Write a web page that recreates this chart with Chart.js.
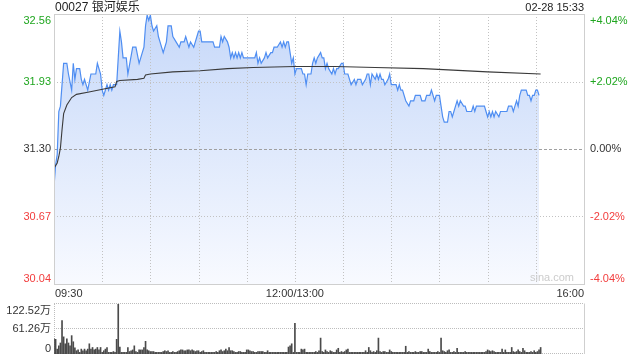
<!DOCTYPE html>
<html>
<head>
<meta charset="utf-8">
<script src="https://cdn.jsdelivr.net/npm/chart.js@4.4.1/dist/chart.umd.min.js"></script>
<style>
  html, body { margin: 0; padding: 0; background: #fff; }
  #wrap { position: relative; width: 640px; height: 360px; overflow: hidden; }
  #priceChart { position: absolute; left: 0; top: 0; width: 640px; height: 300px; }
  #volChart { position: absolute; left: 0; top: 300px; width: 640px; height: 60px; }
</style>
</head>
<body>
<div id="wrap">
  <canvas id="priceChart" width="640" height="300"></canvas>
  <canvas id="volChart" width="640" height="60"></canvas>
</div>
<script>
const title = "00027 银河娱乐";
const stamp = "02-28 15:33";
const prevClose = 31.30;

// trading minute index (0 = 09:30, 150 = 12:00/13:00, 330 = 16:00)
const priceMinutes = [
  0, 1, 2, 3, 4, 6, 8, 9, 11, 12,
  13, 14, 16, 17, 18, 19, 21, 23, 26, 27,
  29, 30, 31, 33, 34, 35, 36, 37, 39, 40,
  41, 42, 43, 45, 46, 49, 51, 53, 54, 56,
  57, 58, 59, 60, 61, 62, 64, 65, 66, 68,
  70, 71, 73, 74, 76, 78, 79, 81, 82, 84,
  85, 87, 88, 89, 90, 91, 92, 99, 100, 103,
  104, 105, 106, 108, 109, 110, 111, 112, 113, 114,
  115, 116, 117, 118, 125, 126, 127, 128, 129, 131,
  132, 133, 135, 136, 137, 139, 141, 142, 143, 144,
  145, 146, 147, 148, 149, 150,
  151, 154, 155, 156, 157, 158, 160, 161, 162, 163,
  164, 166, 167, 168, 169, 170, 171, 173, 174, 175,
  176, 177, 179, 180, 181, 183, 184, 185, 187, 188,
  189, 191, 192, 194, 195, 196, 197, 198, 200, 201,
  202, 203, 204, 205, 206, 208, 209, 210, 213, 214,
  215, 216, 217, 219, 221, 222, 224, 225, 228, 229,
  231, 232, 234, 235, 236, 237, 238, 240, 241, 242,
  243, 245, 246, 247, 248, 249, 250, 251, 252, 253,
  255, 256, 257, 260, 261, 262, 263, 268, 269, 270,
  271, 272, 273, 274, 275, 277, 278, 282, 283, 285,
  286, 287, 288, 289, 290, 291, 294, 295, 296, 297,
  298, 299, 300, 301, 302
];
const prices = [
  30.95, 31.15, 31.25, 31.65, 31.70, 32.10, 32.10, 32.00, 31.85, 32.10,
  31.95, 32.05, 32.05, 31.95, 31.90, 31.95, 31.85, 32.00, 32.00, 32.10,
  32.00, 31.85, 31.80, 31.90, 31.85, 31.90, 31.85, 31.90, 31.90, 32.15,
  32.40, 32.30, 32.15, 32.15, 32.00, 32.25, 32.25, 32.10, 32.15, 32.25,
  32.45, 32.55, 32.50, 32.55, 32.45, 32.40, 32.45, 32.35, 32.30, 32.20,
  32.30, 32.45, 32.45, 32.35, 32.30, 32.25, 32.30, 32.30, 32.35, 32.25,
  32.30, 32.25, 32.30, 32.35, 32.40, 32.40, 32.30, 32.30, 32.25, 32.25,
  32.35, 32.30, 32.35, 32.30, 32.25, 32.15, 32.20, 32.15, 32.20, 32.15,
  32.20, 32.15, 32.20, 32.15, 32.15, 32.20, 32.10, 32.15, 32.10, 32.15,
  32.20, 32.15, 32.20, 32.20, 32.25, 32.25, 32.30, 32.25, 32.30, 32.25,
  32.30, 32.30, 32.20, 32.10, 32.15, 32.00,
  32.05, 32.05, 32.00, 32.00, 31.90, 32.00, 32.00, 32.10, 32.15, 32.10,
  32.15, 32.20, 32.15, 32.15, 32.05, 32.10, 32.05, 32.00, 32.05, 32.00,
  32.05, 32.05, 32.10, 32.10, 32.00, 32.00, 31.95, 31.90, 31.95, 31.90,
  31.95, 31.95, 31.90, 31.95, 32.00, 32.00, 31.90, 32.00, 31.95, 32.00,
  31.95, 32.00, 31.95, 31.95, 31.90, 31.95, 32.00, 31.90, 31.90, 31.85,
  31.90, 31.85, 31.85, 31.75, 31.70, 31.75, 31.75, 31.80, 31.80, 31.75,
  31.75, 31.80, 31.80, 31.85, 31.80, 31.75, 31.80, 31.80, 31.70, 31.60,
  31.55, 31.55, 31.65, 31.65, 31.60, 31.65, 31.70, 31.75, 31.70, 31.75,
  31.70, 31.70, 31.65, 31.65, 31.70, 31.65, 31.70, 31.70, 31.65, 31.60,
  31.65, 31.60, 31.65, 31.60, 31.65, 31.60, 31.65, 31.65, 31.70, 31.70,
  31.65, 31.70, 31.75, 31.70, 31.80, 31.85, 31.85, 31.80, 31.80, 31.75,
  31.80, 31.80, 31.85, 31.85, 31.80
];

// average price line
const avgMinutes = [0, 2, 3, 4, 5, 6, 8, 11, 14, 21, 31, 38, 39, 41, 52, 56, 57, 60, 74, 91, 108, 124, 150, 175, 200, 230, 270, 303];
const avgPrices = [31.12, 31.17, 31.23, 31.31, 31.48, 31.63, 31.71, 31.78, 31.81, 31.83, 31.86, 31.88, 31.93, 31.94, 31.95, 31.96, 31.99, 32.00, 32.02, 32.03, 32.05, 32.06, 32.07, 32.07, 32.06, 32.05, 32.02, 32.00];

// volume per minute, in 万 shares (minute 0..303)
const volumes = [
  37, 36, 12, 20, 27, 82, 42, 25, 37, 27,
  20, 45, 30, 15, 8, 10, 4, 12, 8, 12,
  8, 12, 25, 12, 16, 10, 12, 16, 10, 16,
  4, 8, 12, 16, 4, 4, 4, 6, 4, 36,
  122.52, 17, 4, 4, 4, 4, 16, 6, 8, 10,
  20, 6, 4, 10, 10, 10, 16, 31, 10, 8,
  6, 6, 6, 4, 4, 4, 4, 4, 6, 8,
  6, 8, 4, 4, 6, 4, 4, 6, 8, 10,
  10, 8, 8, 10, 10, 8, 10, 8, 6, 8,
  8, 4, 6, 8, 4, 4, 4, 4, 4, 4,
  4, 6, 4, 8, 10, 6, 8, 12, 8, 16,
  8, 8, 6, 4, 4, 6, 6, 4, 4, 4,
  10, 10, 8, 6, 6, 4, 4, 6, 6, 6,
  6, 4, 4, 8, 4, 4, 4, 4, 4, 4,
  4, 4, 4, 4, 4, 4, 17, 20, 25, 4,
  75, 4, 4, 4, 12, 10, 12, 4, 4, 4,
  4, 4, 4, 6, 4, 8, 39, 6, 4, 10,
  6, 4, 8, 6, 4, 4, 10, 14, 4, 6,
  4, 6, 10, 12, 4, 4, 4, 4, 4, 4,
  4, 4, 4, 4, 8, 4, 16, 8, 4, 6,
  4, 8, 39, 6, 4, 6, 6, 4, 4, 10,
  6, 4, 4, 4, 4, 4, 4, 4, 4, 19,
  4, 6, 4, 4, 4, 6, 4, 4, 6, 6,
  4, 4, 4, 12, 6, 4, 4, 4, 4, 6,
  4, 39, 8, 6, 4, 8, 10, 4, 4, 6,
  4, 14, 4, 4, 4, 4, 6, 4, 4, 4,
  4, 4, 4, 4, 4, 4, 4, 4, 4, 6,
  10, 8, 6, 8, 6, 4, 4, 4, 4, 12,
  4, 10, 4, 4, 4, 16, 6, 4, 6, 10,
  6, 4, 14, 8, 4, 4, 4, 6, 4, 8,
  4, 6, 10, 16
];

const priceTicks = [32.56, 31.93, 31.30, 30.67, 30.04];
const pctLabels = ["+4.04%", "+2.02%", "0.00%", "-2.02%", "-4.04%"];
const volTicks = [122.52, 61.26, 0];
const volLabels = ["122.52万", "61.26万", "0"];
const timeMinutes = [0, 150, 330];
const timeLabels = ["09:30", "12:00/13:00", "16:00"];
const gridMinutes = [30, 60, 90, 120, 150, 180, 210, 240, 270, 300];

const FONT = '"Liberation Sans", Arial, "Noto Sans CJK SC", sans-serif';
const GREEN = "#1fa61f";
const RED = "#f23d3d";
const DARK = "#333";

function colorFor(v) {
  if (v > prevClose + 1e-6) return GREEN;
  if (v < prevClose - 1e-6) return RED;
  return DARK;
}

function hline(ctx, x1, x2, y) {
  ctx.beginPath(); ctx.moveTo(x1, y); ctx.lineTo(x2, y); ctx.stroke();
}
function vline(ctx, x, y1, y2) {
  ctx.beginPath(); ctx.moveTo(x, y1); ctx.lineTo(x, y2); ctx.stroke();
}

// grid, frame and labels of the price panel
const priceDecor = {
  id: "priceDecor",
  beforeDatasetsDraw(chart) {
    // the area fill is already painted here (filler drawTime), so the grid shows through
    const { ctx, chartArea: a, scales: { x, y } } = chart;
    ctx.save();
    ctx.lineWidth = 1;
    ctx.strokeStyle = "#c2c2c2";
    ctx.setLineDash([1, 2]);
    gridMinutes.forEach((m) => {
      vline(ctx, Math.round(x.getPixelForValue(m)) + 0.5, a.top, a.bottom);
    });
    priceTicks.slice(1, -1).forEach((v) => {
      const py = Math.round(y.getPixelForValue(v)) + 0.5;
      if (v === prevClose) {
        ctx.strokeStyle = "#a0a0a0";
        ctx.setLineDash([3, 2]);
      } else {
        ctx.strokeStyle = "#c2c2c2";
        ctx.setLineDash([1, 2]);
      }
      hline(ctx, a.left, a.right, py);
    });
    ctx.restore();
  },
  afterDraw(chart) {
    const { ctx, chartArea: a, scales: { x, y } } = chart;
    ctx.save();
    ctx.lineWidth = 1;
    ctx.strokeStyle = "#cfcfcf";
    ctx.strokeRect(Math.round(a.left) + 0.5, Math.round(a.top) + 0.5,
      Math.round(a.right - a.left), Math.round(a.bottom - a.top));

    ctx.font = "11px " + FONT;
    priceTicks.forEach((v, i) => {
      let py = y.getPixelForValue(v);
      ctx.textBaseline = "middle";
      if (i === 0) ctx.textBaseline = "top";
      if (i === priceTicks.length - 1) ctx.textBaseline = "bottom";
      ctx.fillStyle = colorFor(v);
      ctx.textAlign = "right";
      ctx.fillText(v.toFixed(2), a.left - 3, py + (i === 0 ? 1 : 0));
      ctx.textAlign = "left";
      ctx.fillText(pctLabels[i], a.right + 6, py + (i === 0 ? 1 : 0));
    });

    ctx.fillStyle = DARK;
    ctx.textBaseline = "middle";
    timeMinutes.forEach((m, i) => {
      const px = x.getPixelForValue(m);
      ctx.textAlign = i === 0 ? "left" : (i === timeMinutes.length - 1 ? "right" : "center");
      ctx.fillText(timeLabels[i], px + (i === 0 ? 1 : 0), a.bottom + 10);
    });

    ctx.fillStyle = "#cccccc";
    ctx.textAlign = "right";
    ctx.textBaseline = "bottom";
    ctx.fillText("sina.com", a.right - 10, a.bottom - 1);

    ctx.fillStyle = "#222";
    ctx.textBaseline = "middle";
    ctx.textAlign = "left";
    ctx.font = "12px " + FONT;
    ctx.fillText(title, a.left + 1, 7.5);
    ctx.textAlign = "right";
    ctx.font = "11px " + FONT;
    ctx.fillText(stamp, a.right, 7.5);
    ctx.restore();
  }
};

// grid, frame and labels of the volume panel
const volDecor = {
  id: "volDecor",
  beforeDatasetsDraw(chart) {
    const { ctx, chartArea: a, scales: { y } } = chart;
    ctx.save();
    ctx.lineWidth = 1;
    ctx.strokeStyle = "#bdbdbd";
    ctx.setLineDash([1, 1]);
    volTicks.forEach((v) => {
      hline(ctx, a.left, a.right, Math.round(y.getPixelForValue(v)) - 0.5);
    });
    vline(ctx, Math.round(a.left) + 0.5, a.top, a.bottom);
    ctx.setLineDash([]);
    ctx.strokeStyle = "#cfcfcf";
    vline(ctx, Math.round(a.right) + 0.5, a.top - 0.5, a.bottom);
    ctx.restore();
  },
  afterDraw(chart) {
    const { ctx, chartArea: a, scales: { y } } = chart;
    ctx.save();
    ctx.font = "11px " + FONT;
    ctx.fillStyle = DARK;
    ctx.textAlign = "right";
    volTicks.forEach((v, i) => {
      ctx.textBaseline = i === 0 ? "top" : (i === volTicks.length - 1 ? "bottom" : "middle");
      ctx.fillText(volLabels[i], a.left - 3, y.getPixelForValue(v) + (i === 0 ? 1 : 0));
    });
    ctx.restore();
  }
};

function areaGradient(context) {
  const { chart } = context;
  const a = chart.chartArea;
  if (!a) return "rgba(205,222,250,0.8)";
  const g = chart.ctx.createLinearGradient(0, a.top, 0, a.bottom);
  g.addColorStop(0, "rgba(198,216,249,1)");
  g.addColorStop(1, "rgba(248,250,255,1)");
  return g;
}

new Chart(document.getElementById("priceChart"), {
  type: "line",
  data: {
    datasets: [
      {
        label: "avg",
        data: avgMinutes.map((m, i) => ({ x: m, y: avgPrices[i] })),
        borderColor: "#3a3a3a",
        borderWidth: 1.1,
        pointRadius: 0,
        fill: false,
        tension: 0,
        order: 0
      },
      {
        label: "price",
        data: priceMinutes.map((m, i) => ({ x: m, y: prices[i] })),
        borderColor: "#4f8ef2",
        borderWidth: 1.2,
        backgroundColor: areaGradient,
        pointRadius: 0,
        fill: "start",
        tension: 0,
        order: 1
      }
    ]
  },
  options: {
    responsive: false,
    animation: false,
    devicePixelRatio: 1,
    layout: { padding: { left: 54, right: 56, top: 14, bottom: 16 } },
    plugins: {
      legend: { display: false },
      tooltip: { enabled: false },
      filler: { drawTime: "beforeDatasetsDraw" }
    },
    scales: {
      x: { type: "linear", min: 0, max: 330, display: false },
      y: { type: "linear", min: 30.04, max: 32.56, display: false }
    }
  },
  plugins: [priceDecor]
});

new Chart(document.getElementById("volChart"), {
  type: "bar",
  data: {
    datasets: [{
      label: "vol",
      data: volumes.map((v, i) => ({ x: i, y: v })),
      backgroundColor: "#4a4a4a",
      barThickness: 1,
      borderWidth: 0
    }]
  },
  options: {
    responsive: false,
    animation: false,
    devicePixelRatio: 1,
    layout: { padding: { left: 54, right: 56, top: 4, bottom: 6 } },
    plugins: { legend: { display: false }, tooltip: { enabled: false } },
    scales: {
      x: { type: "linear", min: 0, max: 330, display: false, offset: false },
      y: { type: "linear", min: 0, max: 122.52, display: false }
    }
  },
  plugins: [volDecor]
});
</script>
</body>
</html>
